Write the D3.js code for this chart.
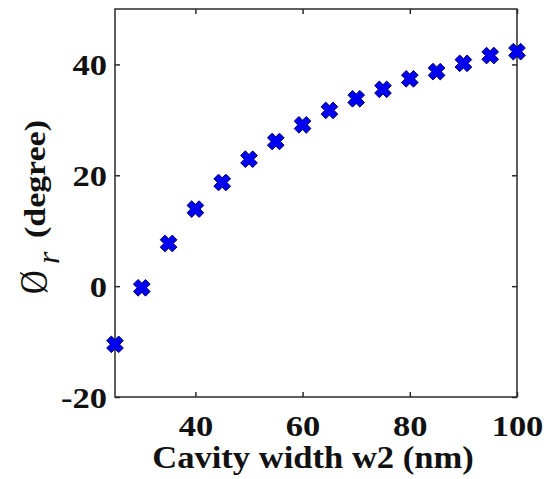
<!DOCTYPE html>
<html><head><meta charset="utf-8">
<script src="https://cdn.jsdelivr.net/npm/d3@7"></script>
<style>body{margin:0;background:#fff}svg{display:block}</style>
</head><body>
<script>
const widths = [25,30,35,40,45,50,55,60,65,70,75,80,85,90,95,100];
const phase = [-10.5,-0.3,7.7,13.9,18.7,22.9,26.1,29.1,31.7,33.8,35.5,37.4,38.7,40.2,41.6,42.3];
const xTicks = [40,60,80,100];
const yTicks = [-20,0,20,40];
const xLabel = "Cavity width w2 (nm)";
const yLabelSym = "\u00D8", yLabelSub = "r", yLabelRest = "(degree)";

const W=546,H=479, L=115, R=517, T=9, B=397;
const svg=d3.select("body").append("svg").attr("width",W).attr("height",H);
const x=d3.scaleLinear().domain([25,100]).range([L,R]);
const y=d3.scaleLinear().domain([-20,50]).range([B,T]);
const font="'Liberation Serif','Times New Roman',serif";
const fmt=d=>String(d); // plain hyphen minus
const sx=1.15, tkFont=30, axisCol="#2a2a2a";

const tk=5;
const g=svg.append("g");
g.append("rect").attr("x",L).attr("y",T).attr("width",R-L).attr("height",B-T)
 .attr("fill","none").attr("stroke",axisCol).attr("stroke-width",1.5);

function styleTicks(sel){sel.select(".domain").remove();sel.selectAll("line").attr("stroke",axisCol).attr("stroke-width",1.5);}

const gx=g.append("g").attr("transform",`translate(0,${B})`)
 .call(d3.axisBottom(x).tickValues(xTicks).tickSizeInner(-tk).tickSizeOuter(0).tickPadding(12).tickFormat(fmt));
styleTicks(gx);
gx.selectAll("text").attr("font-family",font).attr("font-weight","bold").attr("font-size",tkFont)
 .attr("fill","#111").attr("y",17).attr("dy","0.72em").attr("transform",`scale(${sx},1)`);
const gxt=g.append("g").attr("transform",`translate(0,${T})`)
 .call(d3.axisTop(x).tickValues(xTicks).tickSizeInner(-tk).tickSizeOuter(0).tickFormat(""));
styleTicks(gxt);

const gy=g.append("g").attr("transform",`translate(${L},0)`)
 .call(d3.axisLeft(y).tickValues(yTicks).tickSizeInner(-tk).tickSizeOuter(0).tickFormat(fmt));
styleTicks(gy);
gy.selectAll("text").attr("font-family",font).attr("font-weight","bold").attr("font-size",tkFont)
 .attr("fill","#111").attr("x",-8/sx).attr("dy","0.35em").attr("transform",`scale(${sx},1)`);
const gyr=g.append("g").attr("transform",`translate(${R},0)`)
 .call(d3.axisRight(y).tickValues(yTicks).tickSizeInner(-tk).tickSizeOuter(0).tickFormat(""));
styleTicks(gyr);

// markers: thick X
const Lm=8.5,a=3.3;
const pts=[[a,-Lm],[a,-a],[Lm,-a],[Lm,a],[a,a],[a,Lm],[-a,Lm],[-a,a],[-Lm,a],[-Lm,-a],[-a,-a],[-a,-Lm]];
const c=Math.SQRT1_2;
const rot=pts.map(([px,py])=>[(px-py)*c,(px+py)*c]);
const xPath="M"+rot.map(p=>p[0].toFixed(2)+","+p[1].toFixed(2)).join("L")+"Z";
g.selectAll("path.m").data(widths).enter().append("path").attr("class","m")
 .attr("d",xPath).attr("transform",(d,i)=>`translate(${x(d)},${y(phase[i])})`)
 .attr("fill","#0000f0").attr("stroke","#000066").attr("stroke-width",1).attr("stroke-linejoin","round");

// x label
svg.append("text").attr("transform",`translate(313,468) scale(1.08,1)`).attr("text-anchor","middle")
 .attr("font-family",font).attr("font-weight","bold").attr("font-size",32).attr("fill","#111").text(xLabel);
// y label (rotated pieces)
svg.append("text").attr("transform","translate(47,294) rotate(-90) scale(0.82,1)")
 .attr("font-family",font).attr("font-size",40).attr("fill","#111").text(yLabelSym);
svg.append("text").attr("transform","translate(59,264) rotate(-90)")
 .attr("font-family",font).attr("font-style","italic").attr("font-size",32).attr("fill","#111").text(yLabelSub);
svg.append("text").attr("transform","translate(45,238) rotate(-90) scale(1.13,1)")
 .attr("font-family",font).attr("font-weight","bold").attr("font-size",30).attr("fill","#111").text(yLabelRest);
</script>
</body></html>
